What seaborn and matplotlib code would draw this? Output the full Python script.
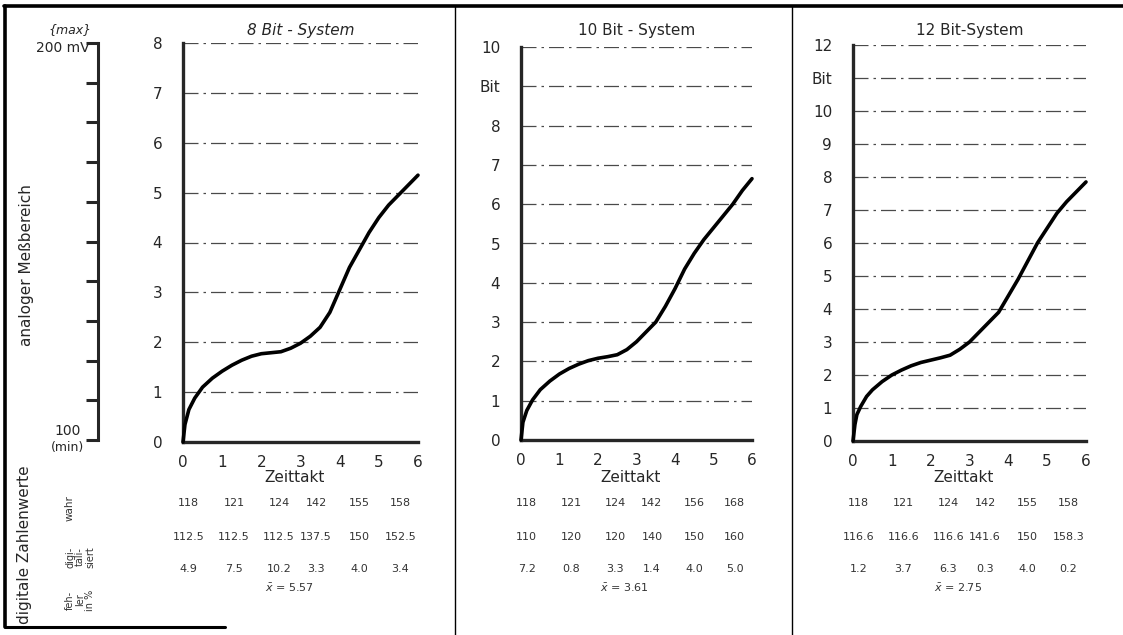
import matplotlib
matplotlib.use('Agg')
import matplotlib.pyplot as plt
import matplotlib.transforms as mtransforms
import seaborn as sns

# Kurven: Zeittakt -> Bit-Stufe
zeit_8 = [0, 0.05, 0.15, 0.3, 0.5, 0.75, 1.0, 1.25, 1.5, 1.75, 2.0, 2.25, 2.5, 2.75,
          3.0, 3.25, 3.5, 3.75, 4.0, 4.25, 4.5, 4.75, 5.0, 5.25, 5.5, 5.75, 6.0]
stufe_8 = [0, 0.35, 0.65, 0.88, 1.1, 1.28, 1.42, 1.54, 1.64, 1.72, 1.77, 1.79, 1.81, 1.88,
           1.98, 2.12, 2.3, 2.6, 3.05, 3.5, 3.85, 4.2, 4.5, 4.75, 4.95, 5.15, 5.35]

zeit_10 = [0, 0.05, 0.15, 0.3, 0.5, 0.75, 1.0, 1.25, 1.5, 1.75, 2.0, 2.25, 2.5, 2.75,
           3.0, 3.25, 3.5, 3.75, 4.0, 4.25, 4.5, 4.75, 5.0, 5.25, 5.5, 5.75, 6.0]
stufe_10 = [0, 0.45, 0.75, 1.02, 1.28, 1.5, 1.68, 1.82, 1.93, 2.02, 2.08, 2.12, 2.17, 2.3,
            2.5, 2.75, 3.0, 3.4, 3.85, 4.35, 4.75, 5.1, 5.4, 5.7, 6.0, 6.35, 6.65]

zeit_12 = [0, 0.05, 0.1, 0.2, 0.35, 0.5, 0.75, 1.0, 1.25, 1.5, 1.75, 2.0, 2.25, 2.5, 2.75,
           3.0, 3.25, 3.5, 3.75, 4.0, 4.25, 4.5, 4.75, 5.0, 5.25, 5.5, 5.75, 6.0]
stufe_12 = [0, 0.5, 0.8, 1.05, 1.35, 1.55, 1.8, 2.0, 2.15, 2.28, 2.38, 2.45, 2.52, 2.6, 2.78,
            3.0, 3.3, 3.6, 3.9, 4.4, 4.9, 5.45, 6.0, 6.45, 6.9, 7.25, 7.55, 7.85]

# digitale Zahlenwerte
wahr_8 = ['118', '121', '124', '142', '155', '158']
digit_8 = ['112.5', '112.5', '112.5', '137.5', '150', '152.5']
fehler_8 = ['4.9', '7.5', '10.2', '3.3', '4.0', '3.4']
mittel_8 = '5.57'

wahr_10 = ['118', '121', '124', '142', '156', '168']
digit_10 = ['110', '120', '120', '140', '150', '160']
fehler_10 = ['7.2', '0.8', '3.3', '1.4', '4.0', '5.0']
mittel_10 = '3.61'

wahr_12 = ['118', '121', '124', '142', '155', '158']
digit_12 = ['116.6', '116.6', '116.6', '141.6', '150', '158.3']
fehler_12 = ['1.2', '3.7', '6.3', '0.3', '4.0', '0.2']
mittel_12 = '2.75'

zeittakt = [0, 1, 2, 3, 4, 5, 6]
mV_skala = [100, 110, 120, 130, 140, 150, 160, 170, 180, 190, 200]

sns.set_style('white')
plt.rcParams['font.family'] = ['DejaVu Sans']

W, H = 1123, 635
fig = plt.figure(figsize=(W / 100, H / 100), dpi=100)

# Overlay in Pixelkoordinaten fuer Rahmen und Beschriftungen
ov = fig.add_axes([0, 0, 1, 1], facecolor='none')
ov.set_xlim(0, W)
ov.set_ylim(H, 0)
ov.axis('off')


def rect(l, r, top, bottom):
    return [l / W, 1 - bottom / H, (r - l) / W, (bottom - top) / H]


# Rahmen
ov.plot([4, W], [6, 6], color='black', lw=2.6)
ov.plot([5, 5], [6, 627], color='black', lw=2.6)
ov.plot([5, 225], [627, 627], color='black', lw=2.2)
ov.plot([455, 455], [6, H], color='black', lw=1.0)
ov.plot([792, 792], [6, H], color='black', lw=1.0)

# analoge Skala links
axs = fig.add_axes(rect(86, 98, 43, 440), facecolor='none')
axs.set_ylim(100, 200)
axs.set_xlim(0, 1)
for s in ['left', 'top', 'bottom']:
    axs.spines[s].set_visible(False)
axs.spines['right'].set_linewidth(2.2)
axs.yaxis.tick_right()
axs.set_yticks(mV_skala)
axs.set_yticklabels([])
axs.set_xticks([])
axs.tick_params(axis='y', direction='in', length=9, width=2.2)

ov.text(70, 30, '{max}', ha='center', va='center', fontsize=9, style='italic')
ov.text(63, 48, '200 mV', ha='center', va='center', fontsize=10)
ov.text(68, 431, '100', ha='center', va='center', fontsize=10)
ov.text(68, 447, '(min)', ha='center', va='center', fontsize=9)
ov.text(27, 265, 'analoger Meßbereich', rotation=90, ha='center', va='center', fontsize=11)
ov.text(25, 545, 'digitale Zahlenwerte', rotation=90, ha='center', va='center', fontsize=11)
ov.text(70, 508, 'wahr', rotation=90, ha='center', va='center', fontsize=7.5, color='#333333')
ov.text(80, 557, 'digi-\ntali-\nsiert', rotation=90, ha='center', va='center',
        fontsize=7, color='#333333', linespacing=1.0)
ov.text(80, 600, 'feh-\nler\nin %', rotation=90, ha='center', va='center',
        fontsize=7, color='#333333', linespacing=1.0)

spalten = [0.15, 1.3, 2.45, 3.4, 4.5, 5.55]

panels = [
    dict(box=(183, 418, 43, 442), ymax=8, bit=None, title='8 Bit - System', italic=True,
         x=zeit_8, y=stufe_8, wahr=wahr_8, digit=digit_8, fehler=fehler_8, mittel=mittel_8),
    dict(box=(521, 752, 47, 440), ymax=10, bit=9, title='10 Bit - System', italic=False,
         x=zeit_10, y=stufe_10, wahr=wahr_10, digit=digit_10, fehler=fehler_10, mittel=mittel_10),
    dict(box=(853, 1086, 45, 441), ymax=12, bit=11, title='12 Bit-System', italic=False,
         x=zeit_12, y=stufe_12, wahr=wahr_12, digit=digit_12, fehler=fehler_12, mittel=mittel_12),
]

for p in panels:
    l, r, top, bottom = p['box']
    ax = fig.add_axes(rect(l, r, top, bottom), facecolor='none')
    ax.set_xlim(0, 6)
    ax.set_ylim(0, p['ymax'])
    for v in range(1, p['ymax'] + 1):
        ax.axhline(v, color='#4a4a4a', lw=0.9, ls=(0, (12, 4, 2, 4)), zorder=1)
    sns.lineplot(x=p['x'], y=p['y'], ax=ax, color='black', linewidth=2.6,
                 estimator=None, sort=False, zorder=3)
    ax.lines[-1].set_clip_on(False)
    sns.despine(ax=ax)
    ax.spines['left'].set_linewidth(2.4)
    ax.spines['bottom'].set_linewidth(2.4)
    ticks = list(range(0, p['ymax'] + 1))
    labels = [('Bit' if t == p['bit'] else str(t)) for t in ticks]
    ax.set_yticks(ticks)
    ax.set_yticklabels(labels)
    ax.set_xticks(zeittakt)
    ax.set_xticklabels([str(t) for t in zeittakt])
    ax.tick_params(axis='y', direction='out', length=9, width=1.3, pad=6, labelsize=11)
    ax.tick_params(axis='x', direction='inout', length=5, width=1.0, pad=7, labelsize=11)
    ax.set_xlabel('')
    ax.set_ylabel('')

    cx = (l + r) / 2
    ov.text(cx, 31, p['title'], ha='center', va='center', fontsize=11,
            style='italic' if p['italic'] else 'normal')
    ov.text(cx - 6, 478, 'Zeittakt', ha='center', va='center', fontsize=11)

    tr = mtransforms.blended_transform_factory(ax.transData, ov.transData)
    for i, sx in enumerate(spalten):
        ov.text(sx, 503, p['wahr'][i], transform=tr, ha='center', va='center',
                fontsize=8, color='#333333')
        ov.text(sx, 537, p['digit'][i], transform=tr, ha='center', va='center',
                fontsize=8, color='#333333')
        ov.text(sx, 569, p['fehler'][i], transform=tr, ha='center', va='center',
                fontsize=8, color='#333333')
    ov.text(2.7, 588, '$\\bar{x}$ = ' + p['mittel'], transform=tr, ha='center', va='center',
            fontsize=8, color='#333333')

fig.savefig('out.png', dpi=100)
